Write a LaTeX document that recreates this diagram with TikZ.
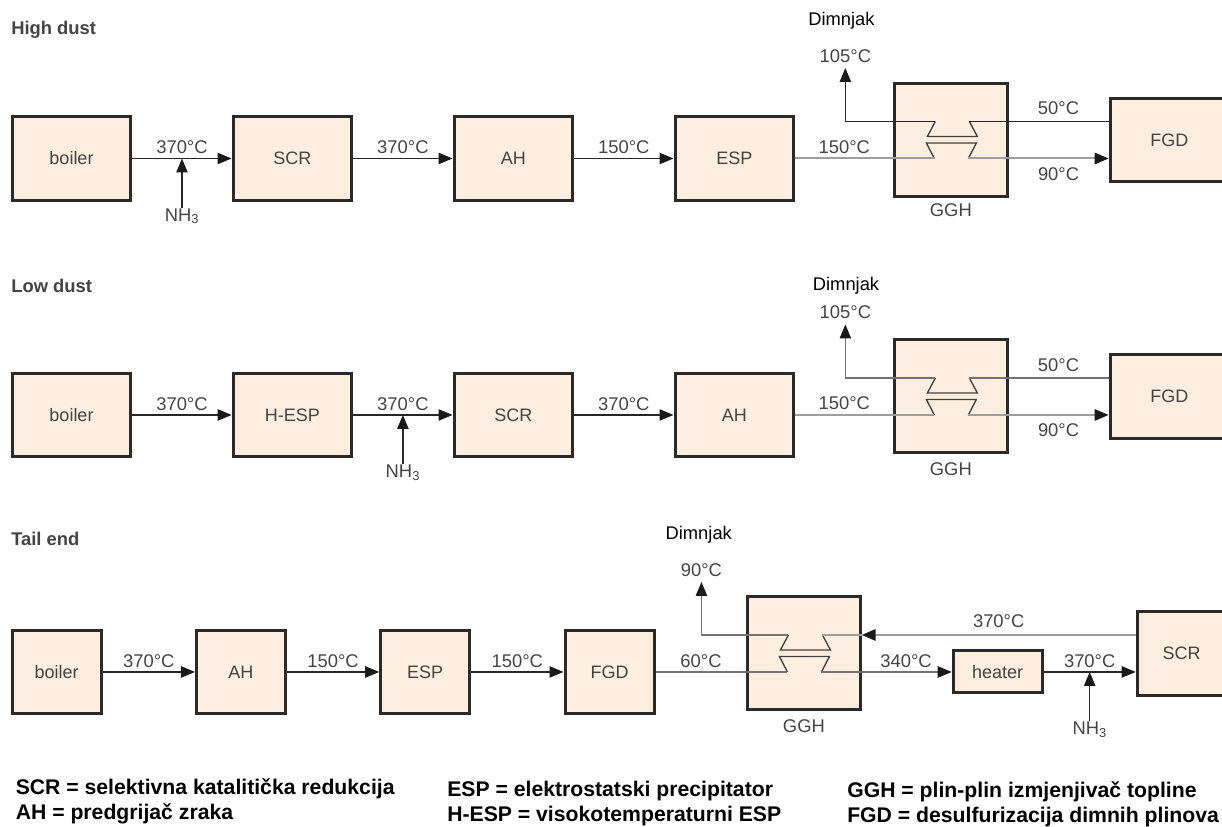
\documentclass[tikz,border=0pt]{standalone}
\usepackage{fontspec}
\setmainfont{Liberation Sans}
\usepackage{xcolor}
\usetikzlibrary{arrows.meta,positioning,calc}

\definecolor{boxfill}{HTML}{FDEEE0}
\definecolor{boxline}{HTML}{2A2A2A}
\definecolor{textgrey}{HTML}{444444}

\newcommand{\hexcoil}[1]{
  \coordinate (#1ul) at ([shift={(-15.5,18.5)}]#1.center);
  \coordinate (#1ur) at ([shift={(18.5,18.5)}]#1.center);
  \coordinate (#1ll) at ([shift={(-16.5,-18.5)}]#1.center);
  \coordinate (#1lr) at ([shift={(17.5,-18.5)}]#1.center);
  \draw[coil] (#1ul) -- ++(-8,-15) -- ++(50,0) -- (#1ur);
  \draw[coil] (#1ll) -- ++(-8,15.5) -- ++(50,0) -- (#1lr);
}

\begin{document}
\begin{tikzpicture}[
  x=0.75pt, y=0.75pt,
  >={Triangle[length=10.5pt,width=8.5pt,color=black!90]},
  block/.style={draw=boxline, line width=2.25pt, fill=boxfill, minimum width=88.95pt, minimum height=62.5pt, inner sep=0pt, text=textgrey, font=\fontsize{13.5}{16}\selectfont, align=center},
  narrow/.style={block, minimum width=66.75pt},
  exchanger/.style={block, minimum width=84.4pt, minimum height=84.75pt},
  lowbox/.style={narrow, minimum height=31.5pt},
  temp/.style={text=textgrey, font=\fontsize{13.8}{16}\selectfont, inner sep=0pt, text height=9.7pt, text depth=0pt},
  flue/.style={text=black, font=\fontsize{13.75}{16}\selectfont, inner sep=0pt},
  section/.style={text=textgrey, font=\fontsize{13.8}{16}\selectfont\bfseries, inner sep=0pt, anchor=west},
  legend/.style={text=black, font=\fontsize{15.9}{18.75}\selectfont\bfseries, inner sep=0pt, align=left, anchor=north west},
  arrow/.style={line width=1pt, black!85},
  duct/.style={line width=1.5pt, black!38},
  midduct/.style={line width=1.1pt, black!55},
  coil/.style={line width=1pt, black!75}
]
\useasboundingbox (0,0) rectangle (1222,826);

\node[section] (higha) at (11,796) {High dust};
\node[section] (lowb) at (11,540) {Low dust};
\node[section] (tailc) at (11,287) {Tail end};

\node[block] (boilera) at (71.5,667.5) {boiler};
\node[block, right=74.5pt of boilera] (scra) {SCR};
\node[block, right=74.5pt of scra] (aha) {AH};
\node[block, right=74.5pt of aha] (espa) {ESP};
\node[exchanger, right=73.5pt of espa, yshift=13.875pt] (ggha) {};
\node[block, right=75pt of ggha] (fgda) {FGD};
\node[temp, below=4pt of ggha] (gghlabela) {GGH};

\node[block, below=127.6pt of boilera] (boilerb) {boiler};
\node[block, right=74.5pt of boilerb] (hespb) {H-ESP};
\node[block, right=74.5pt of hespb] (scrb) {SCR};
\node[block, right=74.5pt of scrb] (ahb) {AH};
\node[exchanger, right=73.5pt of ahb, yshift=13.875pt] (gghb) {};
\node[block, right=75pt of gghb] (fgdb) {FGD};
\node[temp, below=6pt of gghb] (gghlabelb) {GGH};

\node[narrow, below=128pt of boilerb.south west, anchor=north west] (boilerc) {boiler};
\node[narrow, right=69.2pt of boilerc] (ahc) {AH};
\node[narrow, right=69.2pt of ahc] (espc) {ESP};
\node[narrow, right=69.2pt of espc] (fgdc) {FGD};
\node[exchanger, right=68pt of fgdc, yshift=13.875pt] (gghc) {};
\node[lowbox, right=67.5pt of gghc, yshift=-13.875pt] (heaterc) {heater};
\node[narrow, right=69pt of heaterc, yshift=13.875pt] (scrc) {SCR};
\node[temp, below=6pt of gghc] (gghlabelc) {GGH};

\hexcoil{ggha}
\hexcoil{gghb}
\hexcoil{gghc}

\draw[arrow,->] (boilera) -- node[temp, above=3pt] (tempaa) {370°C} coordinate (nhpointa) (scra);
\draw[arrow,->] (scra) -- node[temp, above=3pt] (tempab) {370°C} (aha);
\draw[arrow,->] (aha) -- node[temp, above=3pt] (tempac) {150°C} (espa);
\draw[duct] (espa) -- node[temp, pos=.353, above=3pt] (tempad) {150°C} (gghall);
\draw[duct,->] (gghalr) -- node[temp, pos=.643, below=6pt] (tempae) {90°C} (gghalr -| fgda.west);
\draw[arrow] (fgda.west |- gghaur) -- node[temp, pos=.36, above=4.5pt] (tempaf) {50°C} (gghaur);
\coordinate (stacka) at ([shift={(-90,53.5)}]gghaul);
\draw[arrow,->] (gghaul) -| (stacka);
\node[temp, above=4pt of stacka] (tempag) {105°C};
\node[flue, above=14.5pt of tempag, xshift=-3pt] (flueaa) {Dimnjak};
\node[temp, below=37pt of nhpointa] (nha) {NH\textsubscript{3}};
\draw[arrow,->] (nha) -- (nhpointa);

\draw[arrow,->] (boilerb) -- node[temp, above=3pt] (tempba) {370°C} (hespb);
\draw[arrow,->] (hespb) -- node[temp, above=3pt] (tempbb) {370°C} coordinate (nhpointb) (scrb);
\draw[arrow,->] (scrb) -- node[temp, above=3pt] (tempbc) {370°C} (ahb);
\draw[duct] (ahb) -- node[temp, pos=.353, above=3pt] (tempbd) {150°C} (gghbll);
\draw[duct,->] (gghblr) -- node[temp, pos=.643, below=6pt] (tempbe) {90°C} (gghblr -| fgdb.west);
\draw[midduct] (fgdb.west |- gghbur) -- node[temp, pos=.36, above=4.5pt] (tempbf) {50°C} (gghbur);
\coordinate (stackb) at ([shift={(-90,53.5)}]gghbul);
\draw[midduct,->] (gghbul) -| (stackb);
\node[temp, above=4pt of stackb] (tempbg) {105°C};
\node[flue, above=8pt of tempbg, xshift=0.5pt] (fluebb) {Dimnjak};
\node[temp, below=37pt of nhpointb] (nhb) {NH\textsubscript{3}};
\draw[arrow,->] (nhb) -- (nhpointb);

\draw[arrow,->] (boilerc) -- node[temp, above=3pt] (tempca) {370°C} (ahc);
\draw[arrow,->] (ahc) -- node[temp, above=3pt] (tempcb) {150°C} (espc);
\draw[arrow,->] (espc) -- node[temp, above=3pt] (tempcc) {150°C} (fgdc);
\draw[midduct] (fgdc) -- node[temp, pos=.345, above=3pt] (tempcd) {60°C} (gghcll);
\draw[midduct,->] (gghclr) -- node[temp, pos=.65, above=3pt] (tempce) {340°C} (heaterc);
\draw[arrow,->] (heaterc) -- node[temp, above=3pt] (tempcf) {370°C} coordinate (nhpointc) (heaterc -| scrc.west);
\draw[duct,->] (gghcur -| scrc.west) -- node[temp, above=4.5pt] (tempcg) {370°C} (gghcur -| gghc.east);
\draw[duct] (gghcur -| gghc.east) -- (gghcur);
\coordinate (stackc) at ([shift={(-87,53)}]gghcul);
\draw[midduct,->] (gghcul) -| (stackc);
\node[temp, above=4pt of stackc] (tempch) {90°C};
\node[flue, above=14.5pt of tempch, xshift=-2pt] (fluecc) {Dimnjak};
\node[temp, below=37pt of nhpointc] (nhc) {NH\textsubscript{3}};
\draw[arrow,->] (nhc) -- (nhpointc);

\node[legend] (legenda) at (15.5,48) {SCR = selektivna katalitička redukcija\\AH = predgrijač zraka};
\node[legend] (legendb) at (447,45) {ESP = elektrostatski precipitator\\H-ESP = visokotemperaturni ESP};
\node[legend] (legendc) at (847,45) {GGH = plin-plin izmjenjivač topline\\FGD = desulfurizacija dimnih plinova};

\end{tikzpicture}
\end{document}
